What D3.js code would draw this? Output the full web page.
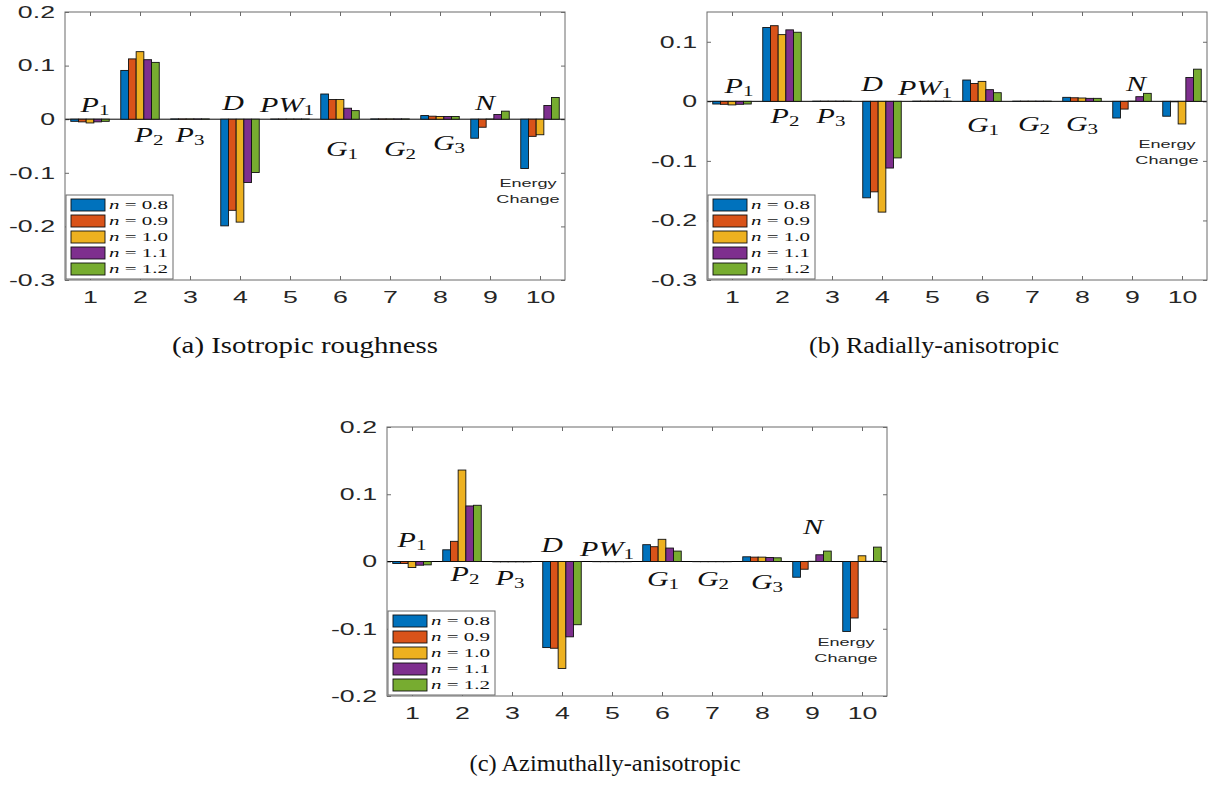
<!DOCTYPE html>
<html><head><meta charset="utf-8">
<script src="https://cdn.jsdelivr.net/npm/d3@7"></script>
<style>body{margin:0;background:#fff}</style>
</head><body>
<svg id="fig" width="1211" height="785"></svg>
<script>
// ---------- data ----------
const categories = [1, 2, 3, 4, 5, 6, 7, 8, 9, 10];
const seriesLabels = ["0.8", "0.9", "1.0", "1.1", "1.2"];
const seriesColors = ["#0072BD", "#D95319", "#EDB120", "#7E2F8E", "#77AC30"];

// (a) Isotropic roughness
const isoN08 = [-0.004, 0.091, 0.0005, -0.199, 0.0003, 0.047, 0.0005, 0.0068, -0.0355, -0.092];
const isoN09 = [-0.005, 0.1125, 0.0005, -0.170, 0.0003, 0.0367, 0.0005, 0.0056, -0.015, -0.032];
const isoN10 = [-0.007, 0.126, 0.0005, -0.192, 0.0003, 0.0367, 0.0005, 0.005, 0.0003, -0.029];
const isoN11 = [-0.005, 0.111, 0.0005, -0.118, 0.0003, 0.0205, 0.0005, 0.005, 0.0087, 0.0255];
const isoN12 = [-0.004, 0.106, 0.0005, -0.0995, 0.0003, 0.016, 0.0005, 0.005, 0.015, 0.0404];

// (b) Radially-anisotropic
const radN08 = [-0.0045, 0.124, 0.0003, -0.162, 0.0003, 0.0358, 0.0003, 0.0067, -0.028, -0.025];
const radN09 = [-0.005, 0.127, 0.0003, -0.152, 0.0003, 0.030, 0.0003, 0.006, -0.013, -0.0008];
const radN10 = [-0.006, 0.112, 0.0003, -0.186, 0.0003, 0.0335, 0.0003, 0.0056, 0.0003, -0.038];
const radN11 = [-0.005, 0.120, 0.0003, -0.112, 0.0003, 0.0196, 0.0003, 0.005, 0.0078, 0.040];
const radN12 = [-0.0045, 0.116, 0.0003, -0.095, 0.0003, 0.0145, 0.0003, 0.005, 0.0134, 0.054];

// (c) Azimuthally-anisotropic
const aziN08 = [-0.003, 0.0174, -0.0005, -0.128, -0.0003, 0.025, -0.0003, 0.007, -0.0234, -0.104];
const aziN09 = [-0.003, 0.030, -0.0005, -0.129, -0.0003, 0.022, -0.0003, 0.0065, -0.0115, -0.084];
const aziN10 = [-0.009, 0.136, -0.0005, -0.159, -0.0003, 0.033, -0.0003, 0.0065, 0.0003, 0.0085];
const aziN11 = [-0.0055, 0.0826, -0.0005, -0.112, -0.0003, 0.020, -0.0003, 0.006, 0.010, 0.0003];
const aziN12 = [-0.005, 0.0836, -0.0005, -0.094, -0.0003, 0.0155, -0.0003, 0.0055, 0.0155, 0.0214];

const yTicksA = [-0.3, -0.2, -0.1, 0, 0.1, 0.2];
const yTicksB = [-0.3, -0.2, -0.1, 0, 0.1];
const yTicksC = [-0.2, -0.1, 0, 0.1, 0.2];

// term annotations: main letter(s) + subscript
const termMain = ["P", "P", "P", "D", "PW", "G", "G", "G", "N"];
const termSub  = ["1", "2", "3", "",  "1",  "1", "2", "3", ""];
const energyLabel = ["Energy", "Change"];

// annotation anchor points (data units: [category, value])
const termPosA = [[1.1, 0.013], [2.18, -0.043], [3.0, -0.043], [3.86, 0.0168], [4.94, 0.013], [6.04, -0.069], [7.2, -0.069], [8.18, -0.058], [8.9, 0.0168]];
const energyPosA = [9.76, -0.126];
const termPosB = [[1.14, 0.0139], [2.06, -0.036], [2.98, -0.036], [3.8, 0.017], [4.86, 0.010], [6.02, -0.051], [7.04, -0.049], [8.0, -0.049], [9.08, 0.017]];
const energyPosB = [9.7, -0.079];
const termPosC = [[1.0, 0.0218], [2.06, -0.029], [2.96, -0.035], [3.8, 0.0134], [4.9, 0.0084], [6.02, -0.036], [7.02, -0.036], [8.1, -0.041], [9.02, 0.041]];
const energyPosC = [9.68, -0.126];

const captions = ["(a) Isotropic roughness", "(b) Radially-anisotropic", "(c) Azimuthally-anisotropic"];

// ---------- drawing ----------
const SX = 1.55; // horizontal stretch of figure text
const svg = d3.select("#fig");
const frameColor = "#6a6a6a";
const textColor = "#262626";

function drawPanel(cfg) {
  const x = d3.scaleLinear().domain([0.5, 10.5]).range([cfg.left, cfg.left + 500]);
  const y = d3.scaleLinear().domain(cfg.yDomain).range([cfg.bottom, cfg.top]);
  const g = svg.append("g");

  // axes (ticks inward)
  const ax = (sel) => { sel.select(".domain").remove(); sel.selectAll(".tick line").attr("stroke", frameColor); };
  g.append("g").attr("transform", `translate(0,${cfg.bottom})`)
    .call(d3.axisBottom(x).tickValues(categories).tickSize(-4).tickPadding(11).tickFormat(d3.format("d")))
    .call(ax)
    .call(s => s.selectAll("text").attr("font-family", "Liberation Sans, Arial, sans-serif")
      .attr("font-size", 16.5).attr("fill", textColor).attr("transform", `scale(1.62,1)`));
  g.append("g").attr("transform", `translate(0,${cfg.top})`)
    .call(d3.axisTop(x).tickValues(categories).tickSize(-4).tickFormat(""))
    .call(ax);
  g.append("g").attr("transform", `translate(${cfg.left},0)`)
    .call(d3.axisLeft(y).tickValues(cfg.yTicks).tickSize(-4).tickPadding(0)
      .tickFormat(d => d === 0 ? "0" : d.toFixed(1)))
    .call(ax)
    .call(s => s.selectAll("text").attr("font-family", "Liberation Sans, Arial, sans-serif")
      .attr("font-size", 16.5).attr("fill", textColor).attr("x", -10 / 1.62)
      .attr("transform", `scale(1.62,1)`));
  g.append("g").attr("transform", `translate(${cfg.left + 500},0)`)
    .call(d3.axisRight(y).tickValues(cfg.yTicks).tickSize(-4).tickFormat(""))
    .call(ax);

  // baseline
  g.append("line").attr("x1", x(0.5)).attr("x2", x(10.5))
    .attr("y1", y(0)).attr("y2", y(0)).attr("stroke", "#000").attr("stroke-width", 1);

  // bars
  const bw = 0.154;
  cfg.series.forEach((vals, si) => {
    g.append("g").selectAll("rect").data(vals).enter().append("rect")
      .attr("x", (d, i) => x(categories[i] + (si - 2) * bw - bw / 2))
      .attr("width", x(bw) - x(0))
      .attr("y", d => y(Math.max(0, d)))
      .attr("height", d => Math.abs(y(d) - y(0)))
      .attr("fill", seriesColors[si])
      .attr("stroke", "#111").attr("stroke-width", 0.9);
  });

  // frame
  g.append("rect").attr("x", cfg.left).attr("y", cfg.top)
    .attr("width", 500).attr("height", cfg.bottom - cfg.top)
    .attr("fill", "none").attr("stroke", frameColor).attr("stroke-width", 1);

  // term annotations
  cfg.termPos.forEach((p, i) => {
    const t = g.append("text")
      .attr("transform", `translate(${x(p[0])},${y(p[1])}) scale(1.5,1)`)
      .attr("text-anchor", "middle")
      .attr("font-family", "Liberation Serif, Times New Roman, serif")
      .attr("fill", "#111");
    t.append("tspan").attr("font-style", "italic").attr("font-size", 20).text(termMain[i]);
    if (termSub[i]) t.append("tspan").attr("font-size", 14).attr("dy", 3).text(termSub[i]);
  });
  const ex = x(cfg.energyPos[0]), ey = y(cfg.energyPos[1]);
  energyLabel.forEach((s, k) => {
    g.append("text")
      .attr("transform", `translate(${ex},${ey + k * 16}) scale(1.6,1)`)
      .attr("text-anchor", "middle")
      .attr("font-family", "Liberation Sans, Arial, sans-serif")
      .attr("font-size", 11.3).attr("fill", textColor).text(s);
  });

  // legend
  const lx = cfg.left + 1, lh = 84, lw = 107, ly = cfg.bottom - 1 - lh;
  const lg = g.append("g");
  lg.append("rect").attr("x", lx).attr("y", ly).attr("width", lw).attr("height", lh)
    .attr("fill", "#fff").attr("stroke", frameColor).attr("stroke-width", 1);
  seriesLabels.forEach((lab, i) => {
    const cy = ly + 10 + i * 16;
    lg.append("rect").attr("x", lx + 5).attr("y", cy - 6).attr("width", 34).attr("height", 12)
      .attr("fill", seriesColors[i]).attr("stroke", "#111").attr("stroke-width", 0.9);
    const t = lg.append("text")
      .attr("transform", `translate(${lx + 43},${cy + 4}) scale(1.68,1)`)
      .attr("font-family", "Liberation Serif, Times New Roman, serif")
      .attr("font-size", 12.5).attr("fill", "#111");
    t.append("tspan").attr("font-style", "italic").text("n");
    t.append("tspan").text(" = " + lab);
  });
}

drawPanel({ left: 65, top: 12, bottom: 280, yDomain: [-0.3, 0.2], yTicks: yTicksA,
  series: [isoN08, isoN09, isoN10, isoN11, isoN12], termPos: termPosA, energyPos: energyPosA });
drawPanel({ left: 707, top: 12, bottom: 280, yDomain: [-0.3, 0.15], yTicks: yTicksB,
  series: [radN08, radN09, radN10, radN11, radN12], termPos: termPosB, energyPos: energyPosB });
drawPanel({ left: 387, top: 427, bottom: 696, yDomain: [-0.2, 0.2], yTicks: yTicksC,
  series: [aziN08, aziN09, aziN10, aziN11, aziN12], termPos: termPosC, energyPos: energyPosC });

// captions
const capPos = [[305, 353, 266], [934, 353, 250], [605, 771, 271]];
captions.forEach((c, i) => {
  svg.append("text").attr("x", capPos[i][0]).attr("y", capPos[i][1])
    .attr("text-anchor", "middle")
    .attr("font-family", "Liberation Serif, Times New Roman, serif")
    .attr("font-size", 23).attr("fill", "#111")
    .attr("textLength", capPos[i][2]).attr("lengthAdjust", "spacingAndGlyphs")
    .text(c);
});
</script>
</body></html>
